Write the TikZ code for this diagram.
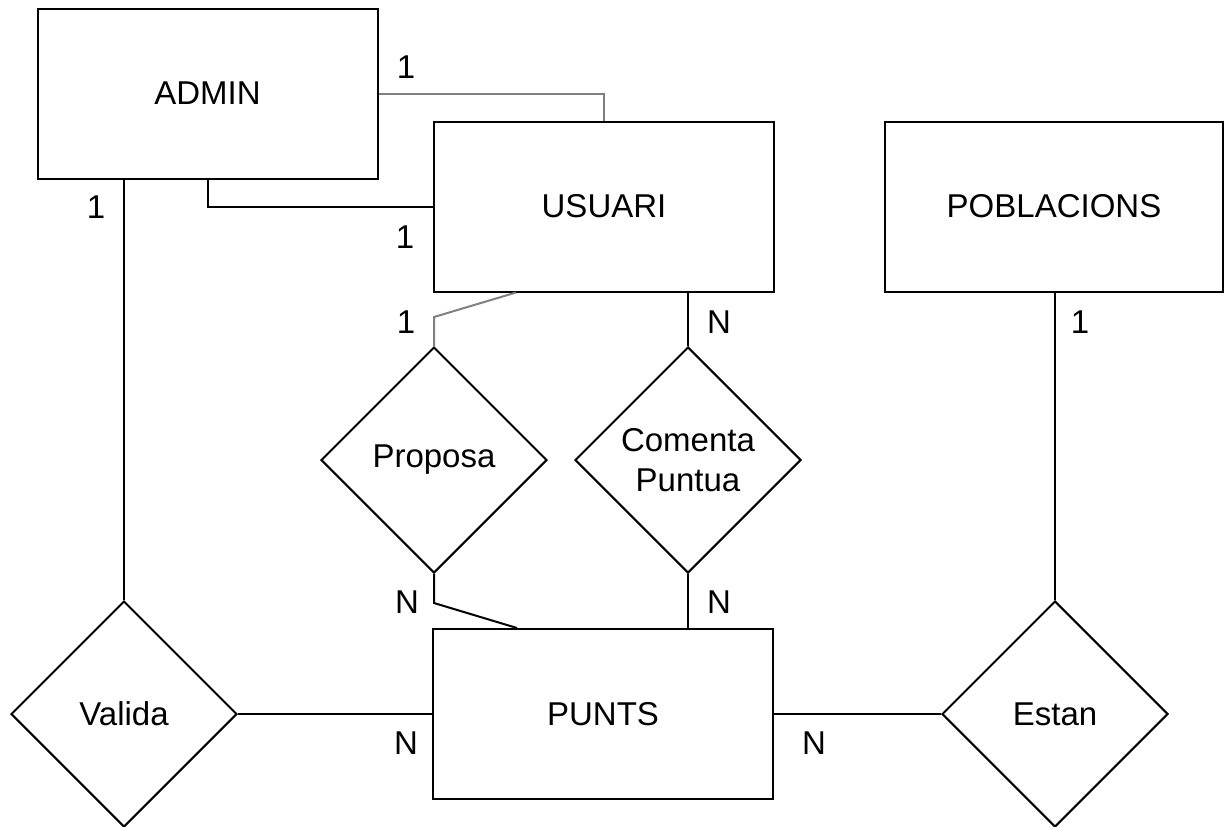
\documentclass[tikz,border=0pt]{standalone}
\usepackage{fontspec}
\setmainfont{Liberation Sans}
\usetikzlibrary{shapes.geometric}
\usetikzlibrary{calc}

\definecolor{linkgray}{RGB}{128,128,128}
\newcommand{\erfont}{\fontsize{16.5}{20}\selectfont}

\begin{document}
\begin{tikzpicture}[x=0.5pt,y=-0.5pt,
  entity/.style={draw,line width=1pt,minimum width=170pt,minimum height=85pt,inner sep=0pt,font=\erfont},
  relation/.style={draw,diamond,line width=1pt,minimum width=113pt,minimum height=113pt,inner sep=0pt,align=center,font=\erfont},
  card/.style={font=\erfont,inner sep=0pt},
  link/.style={line width=1pt},
  softlink/.style={line width=1pt,draw=linkgray}]
\path[fill=white,use as bounding box] (0,0) rectangle (1224,826);

% entitats
\node[entity] (admin) at (207.5,93.5) {ADMIN};
\node[entity] (usuari) at (604,206.5) {USUARI};
\node[entity,minimum width=169pt] (poblacions) at (1054,206.5) {POBLACIONS};
\node[entity] (punts) at (603,714) {PUNTS};

% relacions
\node[relation] (proposa) at (434,460) {Proposa};
\node[relation] (comenta) at (688,460) {Comenta\\Puntua};
\node[relation] (valida) at (124,714) {Valida};
\node[relation] (estan) at (1055,714) {Estan};

% connexions
\draw[softlink] (admin.east) -| (usuari.north);
\draw[link] (admin.south) |- (usuari.west);
\draw[link] (valida.north) -- (valida.north |- admin.south);
\draw[softlink] (proposa.north) -- ++(0,-29) -- ($(usuari.south west)+(83,0)$);
\draw[link] (comenta.north) -- (comenta.north |- usuari.south);
\draw[link] (proposa.south) -- ++(0,29) -- ($(punts.north west)+(85,0)$);
\draw[link] (comenta.south) -- (comenta.south |- punts.north);
\draw[link] (valida.east) -- (punts.west);
\draw[link] (punts.east) -- (estan.west);
\draw[link] (estan.north) -- (estan.north |- poblacions.south);

% cardinalitats
\node[card] (c1) at (406,67) {1};
\node[card] (c2) at (405,237) {1};
\node[card] (c3) at (96,207) {1};
\node[card] (c4) at (406,322) {1};
\node[card] (c5) at (1080,322) {1};
\node[card] (n1) at (719,322) {N};
\node[card] (n2) at (407,602) {N};
\node[card] (n3) at (719,602) {N};
\node[card] (n4) at (406,743) {N};
\node[card] (n5) at (814,743) {N};
\end{tikzpicture}
\end{document}
